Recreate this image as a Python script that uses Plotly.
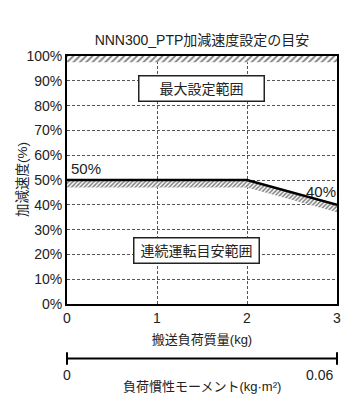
import plotly.graph_objects as go

# Data
mass_kg = [0, 2, 3]
accel_pct = [50, 50, 40]
band_depth = 3  # hatched band thickness below the line (%)
max_band = [97.5, 100]
x_ticks = [0, 1, 2, 3]
y_ticks = list(range(0, 101, 10))
y_ticktext = [f"{v}%" for v in y_ticks]
inertia_range = [0, 0.06]
title = "NNN300_PTP加減速度設定の目安"
font = "Liberation Sans, Noto Sans CJK JP"

W, H = 353, 410
mt, mb, ml, mr = 56, 50, 67, 16
plot_bottom = 304
second_axis_y = 358
paper_h = H - mt - mb
ydom0 = ((H - mb) - plot_bottom) / paper_h
y2top = ((H - mb) - (second_axis_y - 1)) / paper_h

fig = go.Figure()

# top hatched band (max)
fig.add_trace(go.Scatter(
    x=[x_ticks[0], x_ticks[-1], x_ticks[-1], x_ticks[0], x_ticks[0]],
    y=[max_band[0], max_band[0], max_band[1], max_band[1], max_band[0]],
    fill="toself", mode="lines", line=dict(width=0),
    fillpattern=dict(shape="/", fgcolor="#000", bgcolor="white", size=4.5, solidity=0.4),
    hoverinfo="skip", showlegend=False))

# hatched band under the line
lower = [v - band_depth for v in accel_pct]
fig.add_trace(go.Scatter(
    x=mass_kg + mass_kg[::-1] + [mass_kg[0]],
    y=accel_pct + lower[::-1] + [accel_pct[0]],
    fill="toself", mode="lines", line=dict(width=0),
    fillpattern=dict(shape="/", fgcolor="#000", bgcolor="white", size=3, solidity=0.5),
    hoverinfo="skip", showlegend=False))

fig.add_trace(go.Scatter(x=mass_kg, y=accel_pct, mode="lines",
                         line=dict(color="black", width=2.5), showlegend=False,
                         hoverinfo="skip"))

# secondary (inertia) scale drawn as its own tiny subplot
fig.add_trace(go.Scatter(x=inertia_range, y=[0, 0], xaxis="x2", yaxis="y2",
                         mode="lines+markers",
                         line=dict(color="black", width=2),
                         marker=dict(symbol="line-ns", size=9,
                                     line=dict(width=2, color="black")),
                         showlegend=False, hoverinfo="skip", cliponaxis=False))

grid = dict(showgrid=True, gridcolor="#555", gridwidth=1, griddash="3px,2px")

fig.update_layout(
    width=W, height=H,
    margin=dict(l=ml, r=mr, t=mt, b=mb),
    paper_bgcolor="white", plot_bgcolor="white",
    font=dict(family=font, size=13, color="#222"),
    title=dict(text=title, x=(ml + (W - mr - ml) / 2) / W, xanchor="center",
               y=1 - 40 / H, yanchor="middle", font=dict(size=14, color="#222")),
    xaxis=dict(range=[0, 3], tickvals=x_ticks, showline=True, linecolor="black",
               linewidth=2, mirror=True, ticks="", zeroline=False, anchor="y",
               tickfont=dict(size=14),
               title=dict(text="搬送負荷質量(kg)", standoff=10, font=dict(size=13)),
               **grid),
    yaxis=dict(range=[0, 100], tickvals=y_ticks, ticktext=y_ticktext, showline=True,
               linecolor="black", linewidth=2, mirror=True, ticks="",
               zeroline=False, domain=[ydom0, 1], anchor="x",
               tickfont=dict(size=14), **grid),
    xaxis2=dict(range=inertia_range, anchor="y2", domain=[0, 1], visible=False),
    yaxis2=dict(range=[-1, 1], domain=[0, y2top], anchor="x2", visible=False),
)

ann = []
ann.append(dict(x=0, y=50, xref="paper", yref="y", text="加減速度(%)",
                textangle=-90, showarrow=False, xanchor="center", xshift=-45,
                font=dict(size=13.5)))
ann.append(dict(x=0.21, y=54.5, xref="x", yref="y", text="50%", showarrow=False,
                font=dict(size=15)))
ann.append(dict(x=2.82, y=45.5, xref="x", yref="y", text="40%", showarrow=False,
                font=dict(size=15)))
box = dict(showarrow=False, bgcolor="white", bordercolor="#222", borderwidth=1.5,
           borderpad=2, width=120, height=20, font=dict(size=14))
ann.append(dict(x=1.49, y=87, xref="x", yref="y", text="最大設定範囲", **box))
ann.append(dict(x=1.44, y=21.5, xref="x", yref="y", text="連続運転目安範囲", **box))
ann.append(dict(x=inertia_range[0], y=0, xref="x2", yref="y2", text="0",
                showarrow=False, yanchor="top", yshift=-6, font=dict(size=14)))
ann.append(dict(x=inertia_range[1], y=0, xref="x2", yref="y2", text="0.06",
                showarrow=False, xanchor="right", yanchor="top", yshift=-6,
                xshift=-2, font=dict(size=14)))
ann.append(dict(x=sum(inertia_range) / 2, y=0, xref="x2", yref="y2",
                text="負荷慣性モーメント(kg·m²)", showarrow=False,
                yanchor="middle", yshift=-28, font=dict(size=13)))
fig.update_layout(annotations=ann)

fig.write_html("out.html")
